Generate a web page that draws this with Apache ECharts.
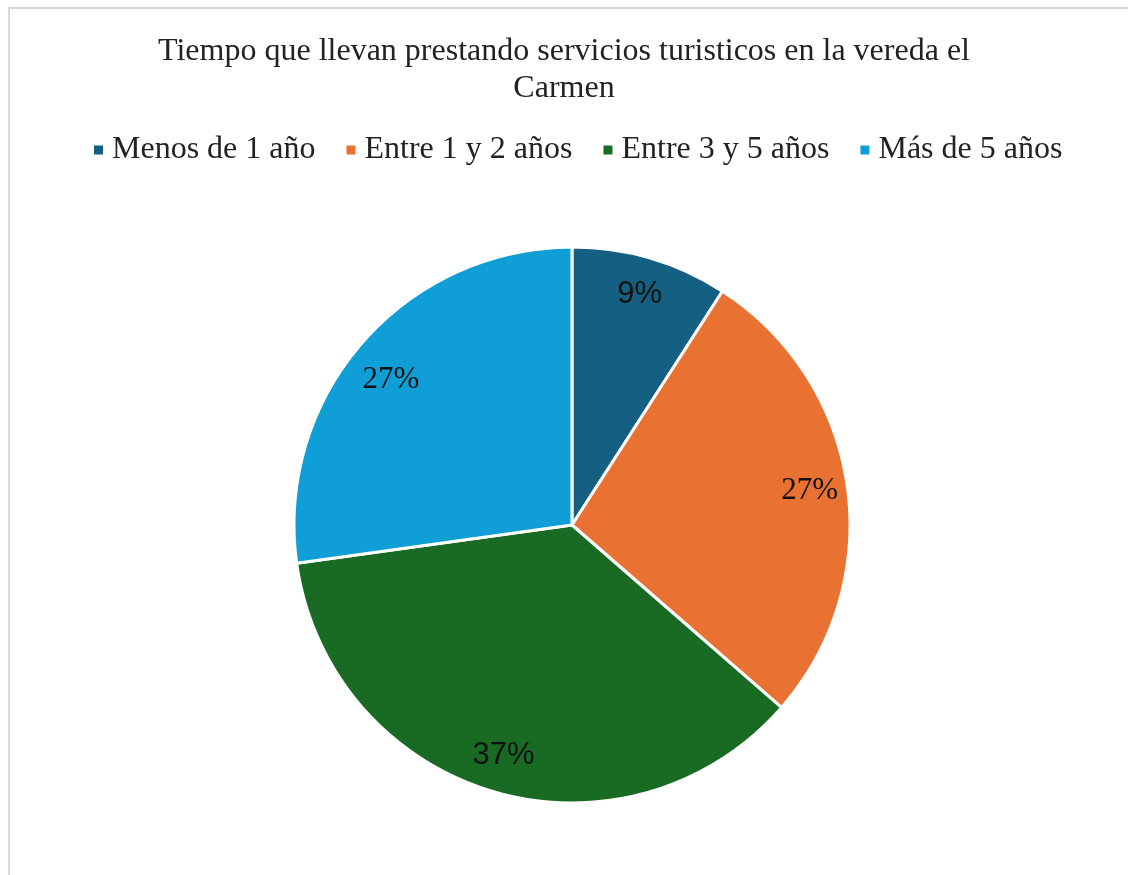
<!DOCTYPE html>
<html>
<head>
<meta charset="utf-8">
<script src="https://cdn.jsdelivr.net/npm/echarts@6/dist/echarts.min.js"></script>
<style>
  html, body { margin: 0; padding: 0; background: #fff; }
  #frame { position: absolute; left: 8px; top: 7px; width: 1200px; height: 1000px; border: 2px solid #d9d9d9; }
  #chartDiv { position: absolute; left: 0; top: 0; width: 1128px; height: 875px; }
</style>
</head>
<body>
<div id="frame"></div>
<div id="chartDiv"></div>
<script>
var categories = ['Menos de 1 año', 'Entre 1 y 2 años', 'Entre 3 y 5 años', 'Más de 5 años'];
var values = [9.1, 27.3, 36.4, 27.2];
var pctLabels = ['9%', '27%', '37%', '27%'];
var colors = ['#156082', '#E97132', '#196B24', '#0F9ED5'];
var labelFonts = ['Liberation Sans', 'Liberation Serif', 'Liberation Sans', 'Liberation Serif'];

var myChart = echarts.init(document.getElementById('chartDiv'));

var pieData = categories.map(function (c, i) {
    return { name: c, value: values[i], itemStyle: { color: colors[i] } };
});
var labelData = categories.map(function (c, i) {
    return {
        name: c,
        value: values[i],
        label: { formatter: pctLabels[i], fontFamily: labelFonts[i] }
    };
});
// excel puts the last label a bit lower
labelData[3].label.offset = [0, 12];

var option = {
    animation: false,
    title: {
        text: 'Tiempo que llevan prestando servicios turisticos en la vereda el\nCarmen',
        left: 'center',
        top: 28,
        textStyle: {
            fontFamily: 'Liberation Serif',
            fontSize: 32,
            fontWeight: 'normal',
            color: '#222',
            lineHeight: 37
        }
    },
    legend: {
        data: categories,
        top: 129,
        left: 87,
        icon: 'rect',
        itemWidth: 11,
        itemHeight: 11,
        itemGap: 29,
        textStyle: {
            fontFamily: 'Liberation Serif',
            fontSize: 32,
            color: '#222',
            padding: [0, 0, 0, 3]
        }
    },
    series: [
        {
            type: 'pie',
            center: [572, 525],
            radius: [0, 278],
            startAngle: 90,
            clockwise: true,
            silent: true,
            label: { show: false },
            labelLine: { show: false },
            itemStyle: { borderColor: '#fff', borderWidth: 3 },
            data: pieData
        },
        {
            type: 'pie',
            center: [572, 525],
            radius: [196, 278],
            startAngle: 90,
            clockwise: true,
            silent: true,
            itemStyle: { color: 'rgba(0,0,0,0)' },
            label: {
                show: true,
                position: 'inside',
                fontSize: 31,
                color: '#111'
            },
            labelLine: { show: false },
            data: labelData
        }
    ]
};

myChart.setOption(option);
</script>
</body>
</html>
